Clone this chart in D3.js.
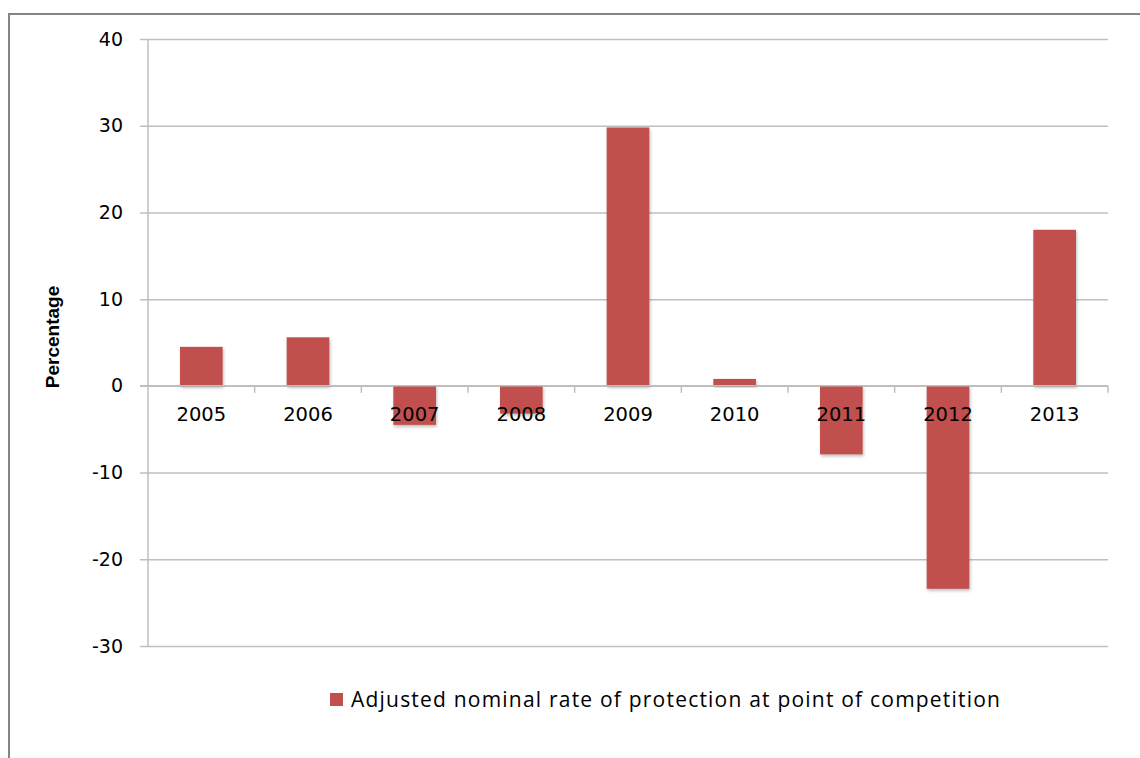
<!DOCTYPE html>
<html>
<head>
<meta charset="utf-8">
<script src="https://cdn.jsdelivr.net/npm/d3@7"></script>
<style>
  body { margin: 0; background: #fff; }
  svg { display: block; }
</style>
</head>
<body>
<svg id="chart" width="1140" height="758"></svg>
<script>
// values
var years = [ "2005", "2006", "2007", "2008", "2009", "2010", "2011", "2012", "2013" ];
var rates = [ 4.5, 5.6, -4.5, -3.2, 29.8, 0.8, -7.9, -23.4, 18.0 ];
var y_ticks = [ 40, 30, 20, 10, 0, -10, -20, -30 ];
var legend_label = "Adjusted nominal rate of protection at point of competition";

var PLOT = { left: 148, right: 1108, top: 39, bottom: 646 };
var BAR_COLOR = "#c0504d";
var GRID_COLOR = "#bfbfbf";

var svg = d3.select( "#chart" );

// shadow under bars, like the office chart
var defs = svg.append( "defs" );
var shadow = defs.append( "filter" ).attr( "id", "shadow" )
  .attr( "x", "-20%" ).attr( "y", "-20%" ).attr( "width", "140%" ).attr( "height", "140%" );
shadow.append( "feDropShadow" )
  .attr( "dx", 1 ).attr( "dy", 2 ).attr( "stdDeviation", 1.5 )
  .attr( "flood-color", "#000" ).attr( "flood-opacity", 0.25 );

// outer frame
svg.append( "rect" )
  .attr( "x", 9 ).attr( "y", 14 )
  .attr( "width", 1200 ).attr( "height", 800 )
  .attr( "fill", "none" )
  .attr( "stroke", "#858585" ).attr( "stroke-width", 2 );

var x = d3.scaleBand()
  .domain( years )
  .range( [ PLOT.left, PLOT.right ] )
  .paddingInner( 0.6 )
  .paddingOuter( 0.3 );

var y = d3.scaleLinear()
  .domain( [ -30, 40 ] )
  .range( [ PLOT.bottom, PLOT.top ] );

// gridlines + y axis (plain hyphen for negatives, as in the original)
var y_axis = svg.append( "g" )
  .attr( "transform", "translate(" + PLOT.left + ",0)" )
  .call( d3.axisLeft( y ).tickValues( y_ticks ).tickSize( 8 ).tickPadding( 17 )
    .tickFormat( function( d ){ return String( d ); } ) );

y_axis.select( ".domain" ).attr( "stroke", GRID_COLOR ).attr( "stroke-width", 1.5 )
  .attr( "d", "M0," + PLOT.top + "V" + PLOT.bottom );
y_axis.selectAll( ".tick line" )
  .attr( "stroke", GRID_COLOR ).attr( "stroke-width", 1.5 )
  .attr( "x1", -8 ).attr( "x2", PLOT.right - PLOT.left );
y_axis.selectAll( ".tick text" )
  .attr( "fill", "#000" )
  .style( "font-family", "'DejaVu Sans', Verdana, sans-serif" )
  .style( "font-size", "19px" );

// bars
svg.append( "g" )
  .selectAll( "rect" )
  .data( rates )
  .join( "rect" )
  .attr( "x", function( d, i ){ return x( years[ i ] ); } )
  .attr( "width", x.bandwidth() )
  .attr( "y", function( d ){ return y( Math.max( 0, d ) ); } )
  .attr( "height", function( d ){ return Math.abs( y( d ) - y( 0 ) ); } )
  .attr( "fill", BAR_COLOR )
  .attr( "filter", "url(#shadow)" );

// zero axis with ticks at category boundaries
var x_axis = svg.append( "g" ).attr( "transform", "translate(0," + y( 0 ) + ")" );
x_axis.append( "line" )
  .attr( "x1", PLOT.left - 8 ).attr( "x2", PLOT.right )
  .attr( "stroke", GRID_COLOR ).attr( "stroke-width", 1.5 );

var boundaries = d3.range( years.length + 1 ).map( function( i ){
  return PLOT.left + i * x.step();
} );
x_axis.selectAll( ".cat-tick" )
  .data( boundaries.slice( 1 ) )
  .join( "line" )
  .classed( "cat-tick", true )
  .attr( "x1", function( d ){ return d; } )
  .attr( "x2", function( d ){ return d; } )
  .attr( "y1", 0 ).attr( "y2", 7 )
  .attr( "stroke", GRID_COLOR ).attr( "stroke-width", 1.5 );

x_axis.selectAll( ".cat-label" )
  .data( years )
  .join( "text" )
  .classed( "cat-label", true )
  .attr( "x", function( d ){ return x( d ) + x.bandwidth() / 2; } )
  .attr( "y", 35 )
  .attr( "text-anchor", "middle" )
  .style( "font-family", "'DejaVu Sans', Verdana, sans-serif" )
  .style( "font-size", "19.5px" )
  .text( function( d ){ return d; } );

// axis title
svg.append( "text" )
  .attr( "transform", "translate(59,337) rotate(-90)" )
  .attr( "text-anchor", "middle" )
  .style( "font-family", "'Liberation Sans Narrow', 'Liberation Sans', Arial, sans-serif" )
  .style( "font-weight", "bold" )
  .style( "font-size", "19px" )
  .text( "Percentage" );

// legend
var legend = svg.append( "g" ).attr( "transform", "translate(330,693)" );
legend.append( "rect" )
  .attr( "width", 13 ).attr( "height", 13 )
  .attr( "fill", BAR_COLOR );
legend.append( "text" )
  .attr( "x", 21 ).attr( "y", 14 )
  .attr( "textLength", 649 )
  .attr( "lengthAdjust", "spacing" )
  .style( "font-family", "'Open Sans', sans-serif" )
  .style( "font-size", "21px" )
  .text( legend_label );
</script>
</body>
</html>
